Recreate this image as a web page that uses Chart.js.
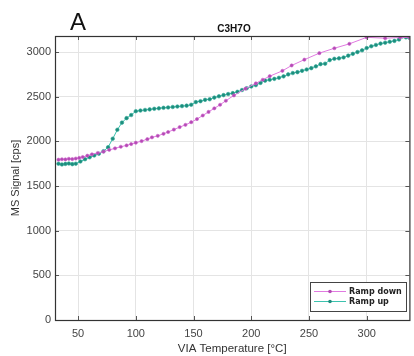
<!DOCTYPE html>
<html>
<head>
<meta charset="utf-8">
<script src="https://cdn.jsdelivr.net/npm/chart.js@4"></script>
<style>
  html, body { margin: 0; padding: 0; background: #fff; }
  #wrap { width: 414px; height: 356px; position: relative; }
</style>
</head>
<body>
<div id="wrap"><canvas id="chart"></canvas></div>
<script>
// temperatures (°C) and signals (cps)
const downTemp = [33, 36, 39, 42, 45, 48, 51, 54, 58, 62, 67, 72, 77, 82, 87, 92, 96, 100, 105, 110, 114, 119, 124, 128, 133, 138, 143, 148, 153, 158, 163, 168, 173, 178, 185, 195, 204, 210, 216, 227, 235, 246, 259, 272, 285, 300, 316, 329, 337];
const downSignal = [1795, 1800, 1798, 1805, 1802, 1808, 1815, 1825, 1840, 1855, 1870, 1885, 1905, 1922, 1940, 1955, 1970, 1985, 2003, 2025, 2045, 2062, 2085, 2105, 2132, 2160, 2185, 2215, 2250, 2290, 2330, 2370, 2410, 2455, 2515, 2590, 2650, 2690, 2730, 2790, 2850, 2915, 2988, 3043, 3092, 3165, 3155, 3163, 3165];

const upTemp = [33, 36, 39, 42, 45, 48, 52, 56, 60, 64, 68, 72, 76, 80, 84, 88, 92, 96, 100, 104, 108, 112, 116, 120, 124, 128, 132, 136, 140, 144, 148, 152, 156, 160, 164, 168, 172, 176, 180, 184, 188, 192, 196, 200, 204, 208, 212, 216, 220, 224, 228, 232, 236, 240, 244, 248, 252, 256, 260, 264, 268, 272, 276, 280, 284, 288, 292, 296, 300, 304, 308, 312, 316, 320, 324, 328, 331, 334, 337];
const upSignal = [1750, 1742, 1748, 1752, 1745, 1750, 1775, 1800, 1822, 1842, 1862, 1890, 1935, 2030, 2130, 2210, 2260, 2295, 2338, 2345, 2352, 2358, 2365, 2370, 2376, 2380, 2385, 2390, 2395, 2400, 2410, 2440, 2450, 2465, 2472, 2490, 2505, 2518, 2530, 2540, 2555, 2575, 2595, 2615, 2630, 2655, 2680, 2690, 2700, 2712, 2728, 2750, 2765, 2775, 2790, 2805, 2820, 2840, 2865, 2870, 2910, 2925, 2930, 2940, 2960, 2980, 3000, 3020, 3045, 3065, 3080, 3095, 3105, 3115, 3125, 3140, 3175, 3165, 3160];

const seriesNames = ['Ramp down', 'Ramp up'];
const xTicks = [50, 100, 150, 200, 250, 300];
const yTicks = [0, 500, 1000, 1500, 2000, 2500, 3000];

const toPoints = (xs, ys) => xs.map((x, i) => ({ x: x, y: ys[i] }));

const FONT = '"Liberation Sans", Arial, sans-serif';

// frame, inward ticks, panel letter, title and legend (MATLAB look)
const decor = {
  id: 'decor',
  afterDraw(chart) {
    const { ctx, chartArea: a, scales } = chart;
    ctx.save();
    // inward tick marks
    ctx.strokeStyle = '#555';
    ctx.lineWidth = 1;
    xTicks.forEach(v => {
      const px = Math.round(scales.x.getPixelForValue(v)) + 0.5;
      ctx.beginPath();
      ctx.moveTo(px, a.bottom); ctx.lineTo(px, a.bottom - 4);
      ctx.moveTo(px, a.top); ctx.lineTo(px, a.top + 4);
      ctx.stroke();
    });
    yTicks.forEach(v => {
      const py = Math.round(scales.y.getPixelForValue(v)) + 0.5;
      ctx.beginPath();
      ctx.moveTo(a.left, py); ctx.lineTo(a.left + 4, py);
      ctx.moveTo(a.right, py); ctx.lineTo(a.right - 4, py);
      ctx.stroke();
    });
    // box
    ctx.strokeStyle = '#333';
    ctx.lineWidth = 1.2;
    ctx.strokeRect(a.left + 0.5, a.top + 0.5, a.right - a.left, a.bottom - a.top);

    // panel letter + title
    ctx.fillStyle = '#111';
    ctx.font = '24px ' + FONT;
    ctx.textAlign = 'center';
    ctx.textBaseline = 'middle';
    ctx.fillText('A', 78, 23);
    ctx.font = 'bold 10px ' + FONT;
    ctx.fillText('C3H7O', 234, 29);

    // legend
    const lx = 310, ly = 282, lw = 96, lh = 29;
    ctx.fillStyle = '#fff';
    ctx.fillRect(lx, ly, lw, lh);
    ctx.strokeStyle = '#444';
    ctx.lineWidth = 1;
    ctx.strokeRect(lx + 0.5, ly + 0.5, lw, lh);
    ctx.font = 'bold 8px "DejaVu Sans", sans-serif';
    ctx.textAlign = 'left';
    chart.data.datasets.forEach((ds, i) => {
      const y = ly + 9 + i * 10;
      ctx.strokeStyle = ds.borderColor;
      ctx.lineWidth = 1;
      ctx.beginPath();
      ctx.moveTo(lx + 4, y + 0.5); ctx.lineTo(lx + 36, y + 0.5);
      ctx.stroke();
      ctx.fillStyle = ds.pointBackgroundColor;
      ctx.beginPath();
      ctx.arc(lx + 20, y + 0.5, 1.8, 0, Math.PI * 2);
      ctx.fill();
      ctx.fillStyle = '#222';
      ctx.fillText(ds.label, lx + 39, y + 1);
    });
    ctx.restore();
  }
};

new Chart(document.getElementById('chart'), {
  type: 'line',
  data: {
    datasets: [
      {
        label: seriesNames[0],
        data: toPoints(downTemp, downSignal),
        borderColor: '#e07ae0',
        backgroundColor: '#e07ae0',
        pointBackgroundColor: '#b44ab4',
        pointBorderColor: '#c85ec8',
        pointRadius: 1.6,
        pointBorderWidth: 0.6,
        borderWidth: 1,
        tension: 0,
      },
      {
        label: seriesNames[1],
        data: toPoints(upTemp, upSignal),
        borderColor: '#3cc2ae',
        backgroundColor: '#3cc2ae',
        pointBackgroundColor: '#1e8c7c',
        pointBorderColor: '#2aa896',
        pointRadius: 1.8,
        pointBorderWidth: 0.6,
        borderWidth: 1,
        tension: 0,
      },
    ],
  },
  options: {
    responsive: true,
    maintainAspectRatio: false,
    animation: false,
    layout: { padding: { top: 36, right: 0, left: 0, bottom: 0 } },
    plugins: {
      legend: { display: false },
      title: { display: false },
      tooltip: { enabled: false },
    },
    scales: {
      x: {
        type: 'linear',
        min: 30,
        max: 337,
        afterBuildTicks: s => { s.ticks = xTicks.map(v => ({ value: v })); },
        afterFit: s => { s.height = 36; },
        grid: { color: '#e4e4e4', drawTicks: false },
        border: { display: false },
        ticks: { color: '#444', font: { family: FONT, size: 11 }, padding: 7, callback: v => String(v) },
        title: {
          display: true,
          text: 'VIA Temperature [°C]',
          color: '#333',
          font: { family: FONT, size: 11.5 },
          padding: { top: 1, bottom: 0 },
        },
      },
      y: {
        min: 0,
        max: 3180,
        afterBuildTicks: s => { s.ticks = yTicks.map(v => ({ value: v })); },
        afterFit: s => { s.width = 55; },
        grid: { color: '#e4e4e4', drawTicks: false },
        border: { display: false },
        ticks: { color: '#444', font: { family: FONT, size: 11 }, padding: 4, callback: v => String(v) },
        title: {
          display: true,
          text: 'MS Signal [cps]',
          color: '#333',
          font: { family: FONT, size: 11 },
          padding: { top: 9, bottom: 0 },
        },
      },
    },
  },
  plugins: [decor],
});
</script>
</body>
</html>
